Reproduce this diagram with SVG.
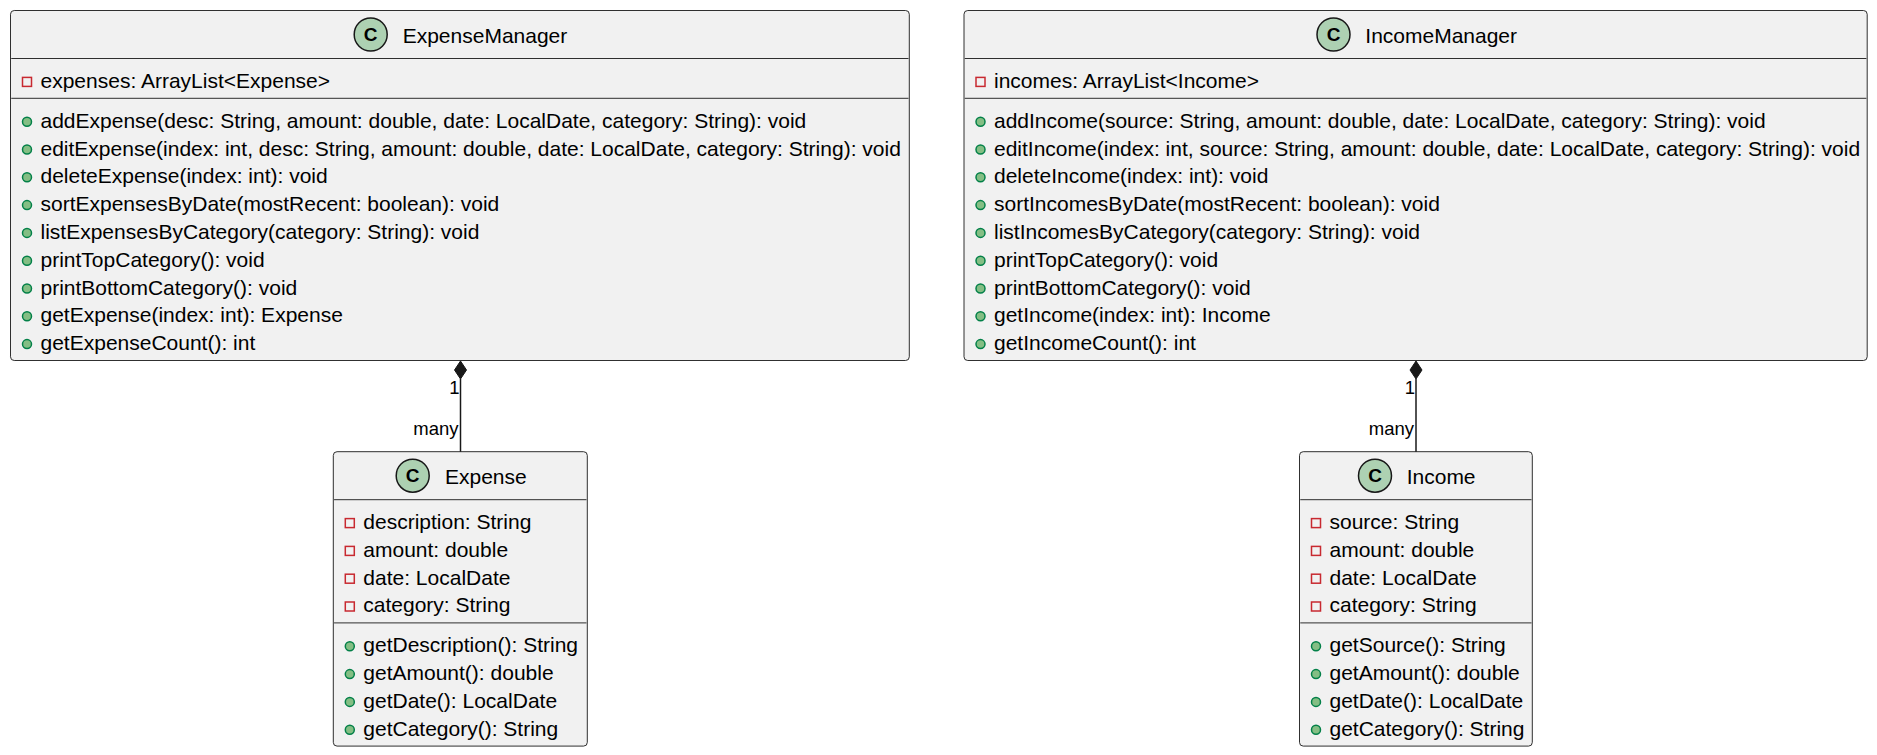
<svg xmlns="http://www.w3.org/2000/svg" width="1877" height="755" viewBox="0 0 1877 755">
<defs>
<style>
.box{fill:#F1F1F1;stroke:#181818;stroke-width:0.9}
.sep{stroke:#181818;stroke-width:0.9}
.spot{fill:#ADD1B2;stroke:#181818;stroke-width:1.5}
.spotC{font-family:"Liberation Sans",Arial,sans-serif;font-size:19px;font-weight:bold;fill:#000;text-anchor:middle}
.title{font-family:"Liberation Sans",Arial,sans-serif;font-size:21px;fill:#000}
.mem{font-family:"Liberation Sans",Arial,sans-serif;font-size:21px;fill:#000}
.priv{fill:none;stroke:#C82930;stroke-width:1.5}
.pub{fill:#84BE84;stroke:#038048;stroke-width:1.5}
.edge{stroke:#181818;stroke-width:1.5;fill:none}
.diam{fill:#181818;stroke:#181818;stroke-width:1}
.lbl{font-family:"Liberation Sans",Arial,sans-serif;font-size:18.5px;fill:#000;text-anchor:end}
</style>
</defs>
<rect width="1877" height="755" fill="#FFFFFF"/>

<g id="ExpenseManager" transform="translate(10.5,10.5)">
<rect class="box" x="0" y="0" width="898.8" height="350" rx="3.75" ry="3.75"/>
<circle class="spot" cx="360.2" cy="24" r="16.5"/>
<text class="spotC" x="360.2" y="30.8">C</text>
<text class="title" x="392.2" y="32.6">ExpenseManager</text>
<line class="sep" x1="0.75" y1="48" x2="898" y2="48"/>
<rect class="priv" x="12" y="66.9" width="9" height="9"/>
<text class="mem" x="30" y="77.4">expenses: ArrayList&lt;Expense&gt;</text>
<line class="sep" x1="0.75" y1="87.8" x2="898" y2="87.8"/>
<circle class="pub" cx="16.5" cy="111.2" r="4.5"/>
<text class="mem" x="30" y="117.2">addExpense(desc: String, amount: double, date: LocalDate, category: String): void</text>
<circle class="pub" cx="16.5" cy="139" r="4.5"/>
<text class="mem" x="30" y="145">editExpense(index: int, desc: String, amount: double, date: LocalDate, category: String): void</text>
<circle class="pub" cx="16.5" cy="166.8" r="4.5"/>
<text class="mem" x="30" y="172.8">deleteExpense(index: int): void</text>
<circle class="pub" cx="16.5" cy="194.6" r="4.5"/>
<text class="mem" x="30" y="200.6">sortExpensesByDate(mostRecent: boolean): void</text>
<circle class="pub" cx="16.5" cy="222.4" r="4.5"/>
<text class="mem" x="30" y="228.4">listExpensesByCategory(category: String): void</text>
<circle class="pub" cx="16.5" cy="250.2" r="4.5"/>
<text class="mem" x="30" y="256.2">printTopCategory(): void</text>
<circle class="pub" cx="16.5" cy="278" r="4.5"/>
<text class="mem" x="30" y="284">printBottomCategory(): void</text>
<circle class="pub" cx="16.5" cy="305.8" r="4.5"/>
<text class="mem" x="30" y="311.8">getExpense(index: int): Expense</text>
<circle class="pub" cx="16.5" cy="333.6" r="4.5"/>
<text class="mem" x="30" y="339.6">getExpenseCount(): int</text>
</g>

<g id="IncomeManager" transform="translate(964,10.5)">
<rect class="box" x="0" y="0" width="903.2" height="350" rx="3.75" ry="3.75"/>
<circle class="spot" cx="369.5" cy="24" r="16.5"/>
<text class="spotC" x="369.5" y="30.8">C</text>
<text class="title" x="401.3" y="32.6">IncomeManager</text>
<line class="sep" x1="0.75" y1="48" x2="902.4" y2="48"/>
<rect class="priv" x="12" y="66.9" width="9" height="9"/>
<text class="mem" x="30" y="77.4">incomes: ArrayList&lt;Income&gt;</text>
<line class="sep" x1="0.75" y1="87.8" x2="902.4" y2="87.8"/>
<circle class="pub" cx="16.5" cy="111.2" r="4.5"/>
<text class="mem" x="30" y="117.2">addIncome(source: String, amount: double, date: LocalDate, category: String): void</text>
<circle class="pub" cx="16.5" cy="139" r="4.5"/>
<text class="mem" x="30" y="145">editIncome(index: int, source: String, amount: double, date: LocalDate, category: String): void</text>
<circle class="pub" cx="16.5" cy="166.8" r="4.5"/>
<text class="mem" x="30" y="172.8">deleteIncome(index: int): void</text>
<circle class="pub" cx="16.5" cy="194.6" r="4.5"/>
<text class="mem" x="30" y="200.6">sortIncomesByDate(mostRecent: boolean): void</text>
<circle class="pub" cx="16.5" cy="222.4" r="4.5"/>
<text class="mem" x="30" y="228.4">listIncomesByCategory(category: String): void</text>
<circle class="pub" cx="16.5" cy="250.2" r="4.5"/>
<text class="mem" x="30" y="256.2">printTopCategory(): void</text>
<circle class="pub" cx="16.5" cy="278" r="4.5"/>
<text class="mem" x="30" y="284">printBottomCategory(): void</text>
<circle class="pub" cx="16.5" cy="305.8" r="4.5"/>
<text class="mem" x="30" y="311.8">getIncome(index: int): Income</text>
<circle class="pub" cx="16.5" cy="333.6" r="4.5"/>
<text class="mem" x="30" y="339.6">getIncomeCount(): int</text>
</g>

<g id="Expense" transform="translate(333.3,451.7)">
<rect class="box" x="0" y="0" width="254" height="294.4" rx="3.75" ry="3.75"/>
<circle class="spot" cx="79.4" cy="24" r="16.5"/>
<text class="spotC" x="79.4" y="30.8">C</text>
<text class="title" x="111.7" y="32.6">Expense</text>
<line class="sep" x1="0.75" y1="48" x2="253.2" y2="48"/>
<rect class="priv" x="12" y="66.9" width="9" height="9"/>
<text class="mem" x="30" y="77.4">description: String</text>
<rect class="priv" x="12" y="94.7" width="9" height="9"/>
<text class="mem" x="30" y="105.2">amount: double</text>
<rect class="priv" x="12" y="122.5" width="9" height="9"/>
<text class="mem" x="30" y="133">date: LocalDate</text>
<rect class="priv" x="12" y="150.3" width="9" height="9"/>
<text class="mem" x="30" y="160.8">category: String</text>
<line class="sep" x1="0.75" y1="171.2" x2="253.2" y2="171.2"/>
<circle class="pub" cx="16.5" cy="194.6" r="4.5"/>
<text class="mem" x="30" y="200.6">getDescription(): String</text>
<circle class="pub" cx="16.5" cy="222.4" r="4.5"/>
<text class="mem" x="30" y="228.4">getAmount(): double</text>
<circle class="pub" cx="16.5" cy="250.2" r="4.5"/>
<text class="mem" x="30" y="256.2">getDate(): LocalDate</text>
<circle class="pub" cx="16.5" cy="278" r="4.5"/>
<text class="mem" x="30" y="284">getCategory(): String</text>
</g>

<g id="Income" transform="translate(1299.5,451.7)">
<rect class="box" x="0" y="0" width="232.8" height="294.4" rx="3.75" ry="3.75"/>
<circle class="spot" cx="75.5" cy="24" r="16.5"/>
<text class="spotC" x="75.5" y="30.8">C</text>
<text class="title" x="107.2" y="32.6">Income</text>
<line class="sep" x1="0.75" y1="48" x2="232" y2="48"/>
<rect class="priv" x="12" y="66.9" width="9" height="9"/>
<text class="mem" x="30" y="77.4">source: String</text>
<rect class="priv" x="12" y="94.7" width="9" height="9"/>
<text class="mem" x="30" y="105.2">amount: double</text>
<rect class="priv" x="12" y="122.5" width="9" height="9"/>
<text class="mem" x="30" y="133">date: LocalDate</text>
<rect class="priv" x="12" y="150.3" width="9" height="9"/>
<text class="mem" x="30" y="160.8">category: String</text>
<line class="sep" x1="0.75" y1="171.2" x2="232" y2="171.2"/>
<circle class="pub" cx="16.5" cy="194.6" r="4.5"/>
<text class="mem" x="30" y="200.6">getSource(): String</text>
<circle class="pub" cx="16.5" cy="222.4" r="4.5"/>
<text class="mem" x="30" y="228.4">getAmount(): double</text>
<circle class="pub" cx="16.5" cy="250.2" r="4.5"/>
<text class="mem" x="30" y="256.2">getDate(): LocalDate</text>
<circle class="pub" cx="16.5" cy="278" r="4.5"/>
<text class="mem" x="30" y="284">getCategory(): String</text>
</g>

<g id="connectors">
<g id="ExpenseManager-Expense">
<line class="edge" x1="460.5" y1="379" x2="460.5" y2="451.7"/>
<polygon class="diam" points="460.5,361 466.5,370 460.5,379 454.5,370"/>
<text class="lbl" x="459.5" y="394">1</text>
<text class="lbl" x="458.5" y="435">many</text>
</g>
<g id="IncomeManager-Income">
<line class="edge" x1="1416" y1="379" x2="1416" y2="451.7"/>
<polygon class="diam" points="1416,361 1422,370 1416,379 1410,370"/>
<text class="lbl" x="1415" y="394">1</text>
<text class="lbl" x="1414" y="435">many</text>
</g>
</g>
</svg>
